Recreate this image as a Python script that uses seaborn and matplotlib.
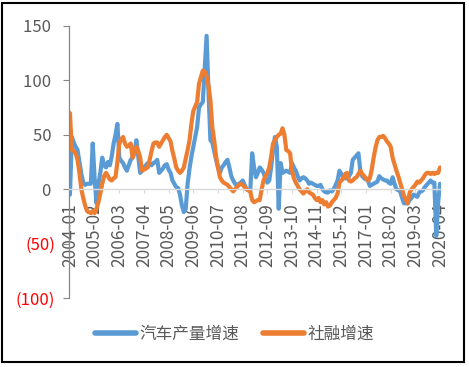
import matplotlib
matplotlib.use("Agg")
import matplotlib.pyplot as plt
import numpy as np
import pandas as pd
import seaborn as sns
from matplotlib.patches import Rectangle

# monthly yoy growth, 2004-01 .. 2020-04
car_output = [
    -5, 48, 43, 39, 36, 25, 14, 6, 4, 5, 5, 5,            # 2004
    42, 10, -13, 5, 15, 29, 22, 20, 25, 22, 30, 42,       # 2005
    50, 60, 29, 26, 24, 20, 17, 22, 27, 29, 35, 45,       # 2006
    30, 15, 17, 20, 22, 24, 24, 22, 24, 25, 27, 15,       # 2007
    17, 19, 22, 23, 18, 15, 8, 5, 2, 1, -5, -15,          # 2008
    -21, -18, 5, 19, 30, 39, 48, 57, 75, 78, 80, 110,     # 2009
    141, 90, 45, 43, 35, 27, 20, 15, 20, 22, 25, 27,      # 2010
    20, 12, 8, 5, 3, 5, 6, 8, 4, 0, -1, -2,               # 2011
    33, 20, 11, 15, 20, 18, 15, 10, 6, 8, 20, 36,         # 2012
    48, 39, -18, 24, 15, 16, 17, 16, 15, 24, 20, 17,      # 2013
    12, 8, 10, 11, 10, 8, 5, 6, 5, 4, 3, 3,               # 2014
    4, 0, -2, -3, -3, -1, -2, 0, 4, 8, 17, 14,            # 2015
    11, 10, 10, 12, 15, 27, 29, 31, 33, 17, 12, 10,       # 2016
    9, 8, 3, 4, 5, 6, 7, 12, 10, 9, 8, 8,                 # 2017
    6, 5, 11, 5, 0, -1, -2, -8, -13, -13, -13, -10,       # 2018
    -8, -5, -6, -7, -3, -2, -1, 2, 4, 6, 8, 6,            # 2019
    6, -43, -12, 5,                                       # 2020
]
social_financing = [
    70, 36, 35, 33, 27, 15, 0, -8, -15, -20, -21, -22,    # 2004
    -20, -22, -18, -12, -4, 5, 12, 15, 12, 9, 8, 10,      # 2005
    11, 25, 42, 46, 48, 42, 39, 40, 42, 29, 33, 39,       # 2006
    35, 29, 17, 18, 19, 20, 27, 35, 42, 43, 43, 39,       # 2007
    42, 45, 48, 50, 47, 44, 35, 28, 20, 17, 15, 17,       # 2008
    20, 28, 36, 45, 60, 72, 76, 80, 97, 103, 109, 108,    # 2009
    104, 95, 82, 57, 45, 30, 20, 11, 8, 6, 5, 4,          # 2010
    2, 0, -2, 0, 2, 4, 5, 4, 2, 0, -1, -2,                # 2011
    -10, -12, -11, -10, -10, 0, 8, 12, 15, 20, 30, 42,    # 2012
    45, 48, 50, 51, 56, 50, 36, 35, 33, 17, 10, 6,        # 2013
    3, 0, -2, -4, -2, 0, -3, -4, -5, -8, -10, -8,         # 2014
    -12, -10, -14, -12, -16, -15, -12, -10, -8, -4, 6, 8, # 2015
    10, 14, 15, 8, 7, 8, 10, 11, 14, 17, 14, 12,          # 2016
    10, 8, 10, 18, 29, 38, 45, 48, 48, 49, 47, 44,        # 2017
    42, 39, 29, 23, 17, 12, 6, 0, -6, -10, -13, -3,       # 2018
    0, 2, 4, 7, 6, 8, 10, 13, 15, 15, 14, 15,             # 2019
    14, 15, 15, 20,                                       # 2020
]
months = pd.period_range("2004-01", "2020-04", freq="M").strftime("%Y-%m").tolist()
y_ticks = [-100, -50, 0, 50, 100, 150]
y_labels = ["(100)", "(50)", "0 ", "50 ", "100 ", "150 "]
series_names = ["汽车产量增速", "社融增速"]

BLUE = "#5B9BD5"
ORANGE = "#ED7D31"
GREY_TEXT = "#595959"

sns.set_style("white")
plt.rcParams["font.family"] = ["Noto Sans CJK SC", "DejaVu Sans"]

df = pd.DataFrame({
    "idx": np.arange(len(months)),
    "month": months,
    series_names[0]: car_output,
    series_names[1]: social_financing,
})

fig = plt.figure(figsize=(4.69, 3.67), dpi=100, facecolor="white")
ax = fig.add_axes([69 / 469, 1 - 298 / 367, (441 - 69) / 469, (298 - 26) / 367])

sns.lineplot(data=df, x="idx", y=series_names[0], color=BLUE, linewidth=3.0,
             label=series_names[0], ax=ax)
sns.lineplot(data=df, x="idx", y=series_names[1], color=ORANGE, linewidth=3.0,
             label=series_names[1], ax=ax)

ax.set_xlim(-0.5, len(months) - 0.5)
ax.set_ylim(-100, 150)
ax.set_xlabel("")
ax.set_ylabel("")

# y axis
ax.tick_params(axis="y", direction="out", length=4, width=0.8, color="#868686",
               labelsize=12, pad=6, left=True)
ax.set_yticks(y_ticks)
ax.set_yticklabels(y_labels)
for lbl, val in zip(ax.get_yticklabels(), y_ticks):
    lbl.set_color("#FF0000" if val < 0 else GREY_TEXT)

# x axis sits on zero
xt = list(range(0, len(months), 13))
ax.tick_params(axis="x", direction="out", length=3, width=0.8, color="#d9d9d9",
               labelsize=12.5, pad=7, bottom=True, labelrotation=90,
               labelcolor=GREY_TEXT)
ax.set_xticks(xt)
ax.set_xticklabels([months[i] for i in xt])
for lbl in ax.get_xticklabels():
    lbl.set_rotation(90)
    lbl.set_va("top")
    lbl.set_ha("center")
ax.spines["bottom"].set_position(("data", 0))
ax.spines["bottom"].set_color("#d9d9d9")
ax.spines["bottom"].set_linewidth(1.0)
ax.spines["left"].set_color("#868686")
ax.spines["left"].set_linewidth(0.9)
ax.spines["top"].set_visible(False)
ax.spines["right"].set_visible(False)
ax.grid(False)

leg = ax.legend(loc="center", bbox_to_anchor=(0.5, 0.088), bbox_transform=fig.transFigure,
                ncol=2, frameon=False, fontsize=12, handlelength=2.5,
                handletextpad=0.2, columnspacing=1.4)
for t in leg.get_texts():
    t.set_color(GREY_TEXT)
for line in leg.get_lines():
    line.set_linewidth(4)

# outer frame
fig.patches.append(Rectangle((2 / 469, 1 - 362 / 367), 462 / 469, 359 / 367,
                             transform=fig.transFigure, fill=False,
                             edgecolor="black", linewidth=1.5))

fig.savefig("out.png", dpi=100)
plt.close(fig)
